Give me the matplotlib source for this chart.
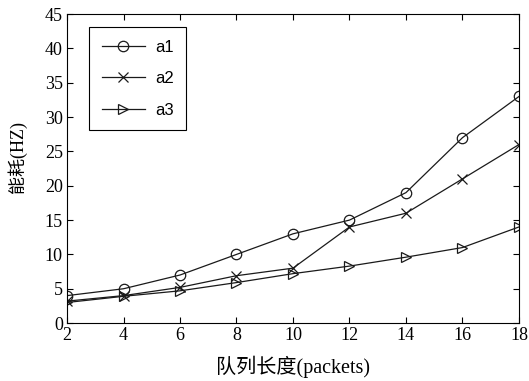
import numpy as np
import matplotlib.pyplot as plt

plt.rcParams['font.family'] = ['Liberation Serif', 'Noto Sans CJK SC']

# data
x = [2, 4, 6, 8, 10, 12, 14, 16, 18]
a1 = [4, 5, 7, 10, 13, 15, 19, 27, 33]
a2 = [3.2, 4, 5.2, 6.9, 8, 14, 16, 21, 26]
a3 = [3, 3.9, 4.7, 5.9, 7.2, 8.3, 9.6, 11, 14]

fig = plt.figure(figsize=(5.29, 3.81), dpi=100)
ax = fig.add_axes([0.1267, 0.152, 0.8543, 0.811])

kw = dict(color='#1a1a1a', lw=0.9, ms=7.5, mfc='none', mew=0.9)
ax.plot(x, a1, marker='o', label='a1', **kw)
ax.plot(x, a2, marker='x', label='a2', **kw)
ax.plot(x, a3, marker='>', label='a3', **kw)

ax.set_xlim(2, 18)
ax.set_ylim(0, 45)
ax.set_xticks(range(2, 19, 2))
ax.set_yticks(range(0, 46, 5))
ax.tick_params(direction='in', top=True, right=True, labelsize=13, length=4, pad=3)
for s in ax.spines.values():
    s.set_linewidth(0.8)

ax.set_xlabel('队列长度(packets)', fontsize=14.5, labelpad=8)
ax.set_ylabel('能耗(HZ)', fontsize=13)
ax.yaxis.set_label_coords(-0.088, 0.537)

leg = ax.legend(loc='upper left', bbox_to_anchor=(0.049, 0.958), borderaxespad=0,
                fancybox=False, edgecolor='black', framealpha=1,
                prop={'family': 'Liberation Sans', 'size': 12},
                handlelength=2.6, handletextpad=0.6, labelspacing=1.0, borderpad=0.75)
leg.get_frame().set_linewidth(0.8)

fig.savefig('out.png', dpi=100)
